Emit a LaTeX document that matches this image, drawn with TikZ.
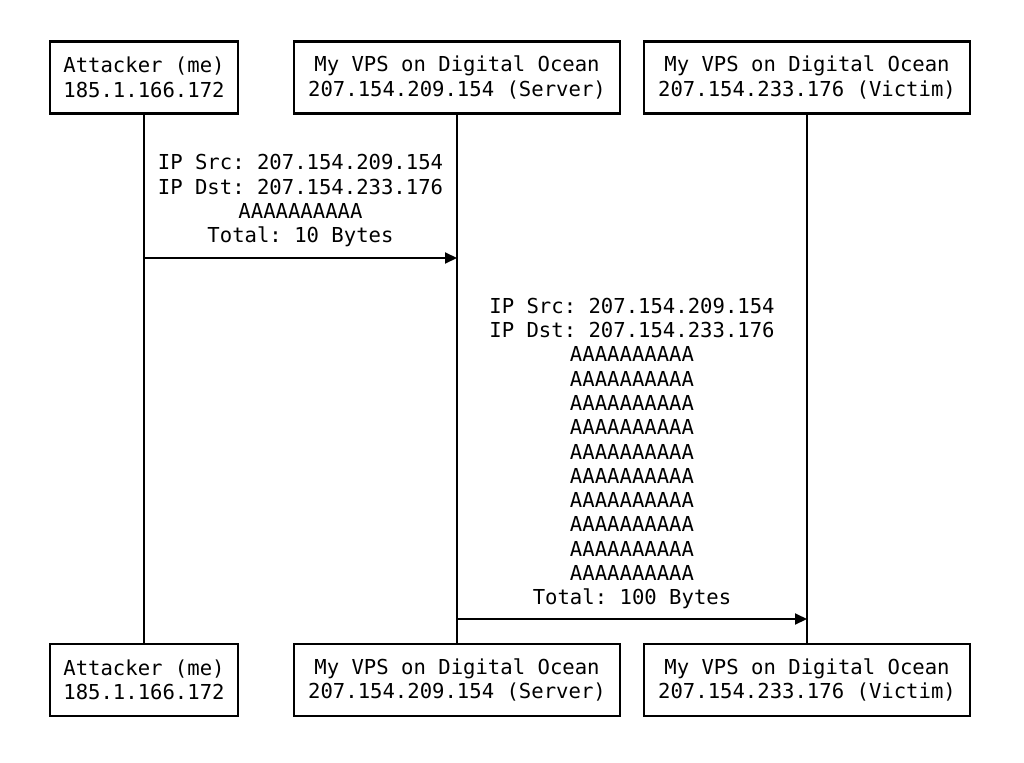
\documentclass[tikz,border=0pt]{standalone}
\usepackage{fontspec}
\setmonofont{DejaVu Sans Mono}
\usetikzlibrary{arrows.meta}
\begin{document}
\begin{tikzpicture}[x=1pt, y=-1pt, actor/.style={draw, line width=2.4pt, align=center, minimum height=72pt, inner xsep=0pt, font=\ttfamily\fontsize{20.6}{24.5}\selectfont}, msg/.style={align=center, inner sep=0pt, anchor=south, font=\ttfamily\fontsize{20.6}{24.3}\selectfont}, lifeline/.style={line width=2pt}, arrow/.style={-{Triangle[length=12pt, width=11pt]}, line width=2pt}]
\useasboundingbox (0,0) rectangle (1024,762);
\node[actor, minimum width=188pt] (attTop) at (144,77.5) {Attacker (me)\\185.1.166.172};
\node[actor, minimum width=326pt] (srvTop) at (457,77.5) {My VPS on Digital Ocean\\207.154.209.154 (Server)};
\node[actor, minimum width=326pt] (vicTop) at (807,77.5) {My VPS on Digital Ocean\\207.154.233.176 (Victim)};
\node[actor, minimum width=188pt] (attBot) at (144,680) {Attacker (me)\\185.1.166.172};
\node[actor, minimum width=326pt] (srvBot) at (457,680) {My VPS on Digital Ocean\\207.154.209.154 (Server)};
\node[actor, minimum width=326pt] (vicBot) at (807,680) {My VPS on Digital Ocean\\207.154.233.176 (Victim)};
\draw[lifeline] (attTop) -- (attBot);\draw[lifeline] (srvTop) -- (srvBot);\draw[lifeline] (vicTop) -- (vicBot);
\coordinate (attOut) at (144,258);\coordinate (srvIn) at (457,258);
\coordinate (srvOut) at (457,619);\coordinate (vicIn) at (807,619);
\draw[arrow] (attOut) -- (srvIn);\draw[arrow] (srvOut) -- (vicIn);
\node[msg] (spoofMsg) at (300.5,247.3) {IP Src: 207.154.209.154\\IP Dst: 207.154.233.176\\AAAAAAAAAA\\Total: 10 Bytes};
\node[msg] (replyMsg) at (632,609.3) {IP Src: 207.154.209.154\\IP Dst: 207.154.233.176\\AAAAAAAAAA\\AAAAAAAAAA\\AAAAAAAAAA\\AAAAAAAAAA\\AAAAAAAAAA\\AAAAAAAAAA\\AAAAAAAAAA\\AAAAAAAAAA\\AAAAAAAAAA\\AAAAAAAAAA\\Total: 100 Bytes};
\end{tikzpicture}
\end{document}
